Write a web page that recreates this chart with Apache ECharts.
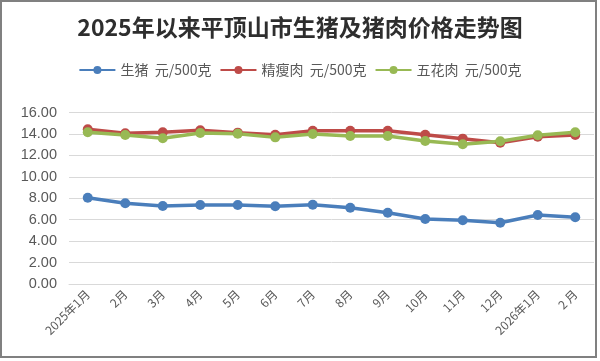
<!DOCTYPE html>
<html><head><meta charset="utf-8">
<script src="https://cdn.jsdelivr.net/npm/echarts@6/dist/echarts.min.js"></script>
<style>html,body{margin:0;padding:0;background:#fff;}#c{width:600px;height:361px;}</style>
</head><body><div id="c"></div>
<script>
const categories = ['2025年1月','2月','3月','4月','5月','6月','7月','8月','9月','10月','11月','12月','2026年1月','2 月'];
const hogPrice = [8.05,7.53,7.28,7.37,7.37,7.25,7.40,7.12,6.65,6.06,5.94,5.72,6.44,6.22];
const leanPrice = [14.43,14.06,14.15,14.34,14.12,13.93,14.30,14.30,14.30,13.93,13.56,13.18,13.74,13.90];
const bellyPrice = [14.15,13.90,13.59,14.09,14.02,13.68,14.00,13.80,13.80,13.34,13.03,13.31,13.87,14.15];
const yTicks = [0,2,4,6,8,10,12,14,16];
const seriesNames = ['生猪  元/500克','精瘦肉  元/500克','五花肉  元/500克'];
const colors = ['#4a7ebb','#be4b48','#98b954'];

const chart = echarts.init(document.getElementById('c'));
const mk = (name, data, color) => ({
  name, type: 'line', data, symbol: 'circle', symbolSize: 10,
  lineStyle: {width: 3.5, color}, itemStyle: {color}
});
chart.setOption({
  animation: false,
  title: {text: '2025年以来平顶山市生猪及猪肉价格走势图', left: 'center', top: 11,
    textStyle: {fontSize: 23, fontWeight: 'bold', color: '#2e2e2e', fontFamily: 'Noto Sans CJK SC'}},
  legend: {top: 58, left: 'center', itemWidth: 36, itemHeight: 10, itemGap: 8,
    textStyle: {fontSize: 14, color: '#595959', fontFamily: 'Noto Sans CJK SC'},
    data: seriesNames},
  graphic: [{type: 'rect', shape: {x: 1, y: 1, width: 595, height: 356},
    style: {fill: 'none', stroke: '#808080', lineWidth: 2}, silent: true}],
  grid: {left: 69, right: 6, top: 112.5, bottom: 77, containLabel: false},
  xAxis: {type: 'category', data: categories, boundaryGap: true,
    axisLine: {lineStyle: {color: '#d9d9d9'}}, axisTick: {show: false},
    axisLabel: {rotate: 45, interval: 0, fontSize: 12, color: '#595959', margin: 8,
      fontFamily: 'Noto Sans CJK SC'}},
  yAxis: {type: 'value', min: 0, max: 16, interval: 2,
    axisLine: {show: false}, axisTick: {show: false},
    splitLine: {lineStyle: {color: '#d9d9d9'}},
    axisLabel: {fontSize: 14.5, color: '#595959', margin: 12,
      formatter: v => yTicks.includes(v) ? v.toFixed(2) : ''}},
  series: [mk(seriesNames[0], hogPrice, colors[0]), mk(seriesNames[1], leanPrice, colors[1]), mk(seriesNames[2], bellyPrice, colors[2])]
});
</script></body></html>
